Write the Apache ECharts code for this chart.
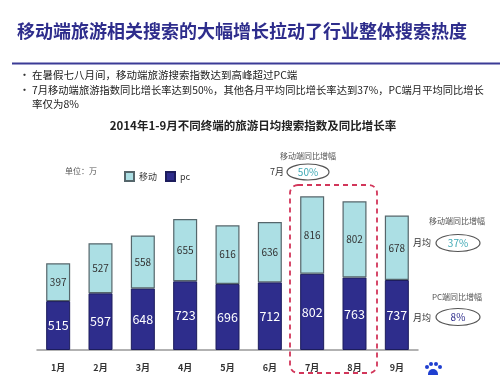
<!DOCTYPE html>
<html><head><meta charset="utf-8">
<script src="https://cdn.jsdelivr.net/npm/echarts@6/dist/echarts.min.js"></script>
<style>html,body{margin:0;padding:0;background:#fff}#c{width:500px;height:375px}</style>
</head><body><div id="c"></div>
<script>
const months = ['1月','2月','3月','4月','5月','6月','7月','8月','9月'];
const mobile = [397,527,558,655,616,636,816,802,678];
const pc = [515,597,648,723,696,712,802,763,737];
const seriesNames = ['移动','pc'];
const pageTitle = '移动端旅游相关搜索的大幅增长拉动了行业整体搜索热度';
const bullets = ['在暑假七八月间，移动端旅游搜索指数达到高峰超过PC端','7月移动端旅游指数同比增长率达到50%，其他各月平均同比增长率达到37%，PC端月平均同比增长','率仅为8%'];
const chartTitle = '2014年1-9月不同终端的旅游日均搜索指数及同比增长率';
const unitText = '单位：万';
const growthJuly = '50%', growthMobileAvg = '37%', growthPcAvg = '8%';

const F = '"Noto Sans CJK SC","Noto Sans",sans-serif';
const navy = '#2e2d8c', mob = '#acdfe4', teal = '#3fa9b5';
const chart = echarts.init(document.getElementById('c'));
function txt(x, y, s, size, color, weight, align) {
  return {type:'text', x:x, y:y, style:{text:s, font:(weight||'normal')+' '+size+'px '+F, fill:color, textAlign:align||'left', textVerticalAlign:'middle'}};
}
function ell(cx, cy, rx, ry, stroke) {
  return {type:'ellipse', shape:{cx:cx, cy:cy, rx:rx, ry:ry}, style:{fill:'#fff', stroke:stroke||'#555', lineWidth:1.2}};
}
chart.setOption({
  backgroundColor:'#fff',
  animation:false,
  grid:{left:37, right:82, top:160, bottom:25},
  legend:{data:seriesNames, left:119, top:166, itemWidth:9, itemHeight:9, itemGap:8, icon:'rect',
    textStyle:{fontSize:9, color:'#333', fontFamily:F}},
  xAxis:{type:'category', data:months, axisTick:{show:false},
    axisLine:{lineStyle:{color:'#999', width:1.5}},
    axisLabel:{fontSize:9, color:'#333', fontWeight:'bold', margin:13, fontFamily:F}},
  yAxis:{type:'value', min:0, max:2000, show:false, splitLine:{show:false}},
  series:[
    {name:'pc', type:'bar', stack:'t', data:pc, barWidth:24,
      itemStyle:{color:navy, borderColor:'#1c1c5c', borderWidth:1},
      label:{show:true, position:'inside', color:'#fff', fontSize:12.5, fontFamily:F}},
    {name:'移动', type:'bar', stack:'t', data:mobile, barWidth:24,
      itemStyle:{color:mob, borderColor:'#55666b', borderWidth:1.2},
      label:{show:true, position:'inside', color:'#333', fontSize:10, fontFamily:F}}
  ],
  graphic:[
    txt(17, 31, pageTitle, 18, navy, 'bold'),
    {type:'rect', shape:{x:12, y:62.5, width:488, height:2}, style:{fill:'#3b3b96'}},
    txt(19, 75, '•', 11, '#333'),
    txt(32, 75, bullets[0], 10.5, '#222'),
    txt(19, 90, '•', 11, '#333'),
    txt(32, 90, bullets[1], 10.3, '#222'),
    txt(32, 104, bullets[2], 10.5, '#222'),
    txt(253, 126, chartTitle, 11.5, '#222', 'bold', 'center'),
    txt(65, 171, unitText, 8, '#555'),
    txt(308, 156, '移动端同比增幅', 8, '#555', 'normal', 'center'),
    txt(270, 172, '7月', 9, '#333'),
    ell(308, 172, 21, 8),
    txt(308, 172, growthJuly, 10, teal, 'normal', 'center'),
    {type:'rect', shape:{x:290, y:185, width:87, height:188, r:8}, style:{fill:'none', stroke:'#d2365a', lineWidth:1.8, lineDash:[5,4]}},
    txt(457, 221, '移动端同比增幅', 8, '#555', 'normal', 'center'),
    txt(413, 243, '月均', 9, '#333'),
    ell(458, 243, 22, 8.5),
    txt(458, 243, growthMobileAvg, 10, teal, 'normal', 'center'),
    txt(457, 297, 'PC端同比增幅', 8, '#555', 'normal', 'center'),
    txt(413, 318, '月均', 9, '#333'),
    ell(458, 317, 22, 8.5),
    txt(458, 317, growthPcAvg, 10, navy, 'normal', 'center'),
    {type:'circle', shape:{cx:433, cy:374, r:5}, style:{fill:'#1f3fd0'}},
    {type:'circle', shape:{cx:427, cy:367, r:2}, style:{fill:'#1f3fd0'}},
    {type:'circle', shape:{cx:431, cy:364, r:2}, style:{fill:'#1f3fd0'}},
    {type:'circle', shape:{cx:436, cy:364, r:2}, style:{fill:'#1f3fd0'}},
    {type:'circle', shape:{cx:440, cy:367, r:2}, style:{fill:'#1f3fd0'}}
  ]
});
</script></body></html>
